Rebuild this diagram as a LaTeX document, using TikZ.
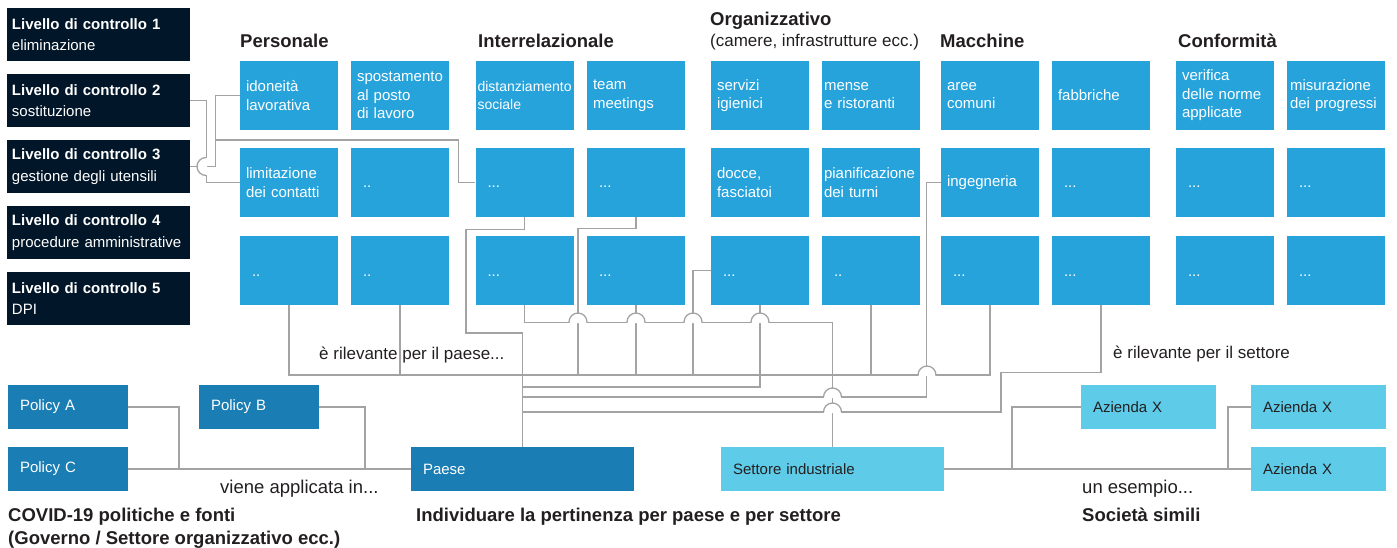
\documentclass[tikz,border=0pt]{standalone}
\usepackage{fontspec}
\setmainfont{Liberation Sans}
\usepackage{xcolor}
\definecolor{ctrlnavy}{HTML}{011628}
\definecolor{taskblue}{HTML}{27A3DC}
\definecolor{policyblue}{HTML}{1A7DB3}
\definecolor{firmcyan}{HTML}{5ECBE8}
\definecolor{textdark}{HTML}{231F20}
\definecolor{linegray}{HTML}{A3A3A3}
% line jumps: over a horizontal line, and to the left of a vertical one
\newcommand{\hoph}[1]{%
  \fill[white] ([shift={(-8.4,-1)}]#1) -- ([shift={(-8.4,0)}]#1) arc[start angle=180,end angle=0,radius=8.4] -- ([shift={(8.4,-1)}]#1) -- cycle;
  \draw[edge] ([shift={(-9,0)}]#1) arc[start angle=180,end angle=0,radius=9];}
\newcommand{\hopv}[1]{%
  \fill[white] ([shift={(1,8.4)}]#1) -- ([shift={(0,8.4)}]#1) arc[start angle=90,end angle=270,radius=8.4] -- ([shift={(1,-8.4)}]#1) -- cycle;
  \draw[edge] ([shift={(0,9)}]#1) arc[start angle=90,end angle=270,radius=9];}

\begin{document}
\begin{tikzpicture}[x=1pt,y=1pt]
\tikzstyle{ctrl} = [fill=ctrlnavy,text=white,minimum width=183,minimum height=53,text width=173,inner xsep=5,inner ysep=0,align=left,font=\fontsize{15}{21.7}\selectfont]
\tikzstyle{task} = [fill=taskblue,text=white,minimum width=98,minimum height=69,text width=86,inner xsep=6,inner ysep=0,align=left,font=\fontsize{15}{18.5}\selectfont]
\tikzstyle{tasktight} = [task,text width=94,inner xsep=2]
\tikzstyle{taskdots} = [task,text width=74,inner xsep=12,text height=11pt,text depth=0pt]
\tikzstyle{policy} = [fill=policyblue,text=white,minimum height=44,inner xsep=12,inner ysep=0,align=left,font=\fontsize{15}{18}\selectfont]
\tikzstyle{firm} = [policy,fill=firmcyan,text=textdark]
\tikzstyle{head} = [anchor=base west,inner sep=0,text=textdark,font=\bfseries\fontsize{18.5}{22.6}\selectfont]
\tikzstyle{note} = [anchor=base west,inner sep=0,text=textdark,font=\fontsize{17}{20}\selectfont]
\tikzstyle{edge} = [draw=linegray,line width=1.3]
\useasboundingbox (0,0) rectangle (1397,-548);

% control levels
\node[ctrl] (l1) at (98.5,-34.5) {\textbf{Livello di controllo 1}\\eliminazione};
\node[ctrl] (l2) at (98.5,-100.5) {\textbf{Livello di controllo 2}\\sostituzione};
\node[ctrl] (l3) at (98.5,-166.5) {\textbf{Livello di controllo 3}\\gestione degli utensili};
\node[ctrl] (l4) at (98.5,-232.5) {\textbf{Livello di controllo 4}\\procedure amministrative};
\node[ctrl] (l5) at (98.5,-298.5) {\textbf{Livello di controllo 5}\\DPI};

% column headers
\node[head] (hpers) at (240,-48) {Personale};
\node[head] (hinter) at (478,-48) {Interrelazionale};
\node[head] (horg) at (710,-26) {Organizzativo};
\node[note] (horgsub) at (710,-47) {(camere, infrastrutture ecc.)};
\node[head] (hmach) at (940,-48) {Macchine};
\node[head] (hconf) at (1178,-48) {Conformità};

% measures
\node[task] (p11) at (289,-95.5) {idoneità\\lavorativa};
\node[task] (p12) at (400,-95.5) {spostamento\\al posto\\di lavoro};
\node[task] (p21) at (289,-182.5) {limitazione\\dei contatti};
\node[taskdots] (p22) at (400,-182.5) {..};
\node[taskdots] (p31) at (289,-270.5) {..};
\node[taskdots] (p32) at (400,-270.5) {..};
\node[tasktight,font=\fontsize{14}{17.5}\selectfont] (i11) at (524.5,-95.5) {distanziamento\\sociale};
\node[task] (i12) at (636,-95.5) {team\\meetings};
\node[taskdots] (i21) at (524.5,-182.5) {...};
\node[taskdots] (i22) at (636,-182.5) {...};
\node[taskdots] (i31) at (524.5,-270.5) {...};
\node[taskdots] (i32) at (636,-270.5) {...};
\node[task] (o11) at (760,-95.5) {servizi\\igienici};
\node[tasktight] (o12) at (871,-95.5) {mense\\e ristoranti};
\node[task] (o21) at (760,-182.5) {docce,\\fasciatoi};
\node[tasktight] (o22) at (871,-182.5) {pianificazione\\dei turni};
\node[taskdots] (o31) at (760,-270.5) {...};
\node[taskdots] (o32) at (871,-270.5) {..};
\node[task] (m11) at (990,-95.5) {aree\\comuni};
\node[task] (m12) at (1101,-95.5) {fabbriche};
\node[task] (m21) at (990,-182.5) {ingegneria};
\node[taskdots] (m22) at (1101,-182.5) {...};
\node[taskdots] (m31) at (990,-270.5) {...};
\node[taskdots] (m32) at (1101,-270.5) {...};
\node[task] (c11) at (1225,-95.5) {verifica\\delle norme\\applicate};
\node[tasktight,inner xsep=3,text width=92] (c12) at (1336,-95.5) {misurazione\\dei progressi};
\node[taskdots] (c21) at (1225,-182.5) {...};
\node[taskdots] (c22) at (1336,-182.5) {...};
\node[taskdots] (c31) at (1225,-270.5) {...};
\node[taskdots] (c32) at (1336,-270.5) {...};

% policies, country, sector, companies
\node[policy,text width=96] (polA) at (68,-407) {Policy A};
\node[policy,text width=96] (polB) at (259,-407) {Policy B};
\node[policy,text width=96] (polC) at (68,-469) {Policy C};
\node[policy,text width=199] (paese) at (522.5,-469) {Paese};
\node[firm,text width=199] (settore) at (832.5,-469) {Settore industriale};
\node[firm,text width=111] (azA) at (1148.5,-407) {Azienda X};
\node[firm,text width=111] (azB) at (1318.5,-407) {Azienda X};
\node[firm,text width=111] (azC) at (1318.5,-469) {Azienda X};

% bends and jumps
\coordinate (jl3) at (215,-140);
\coordinate (k1) at (466,-333);
\coordinate (k2) at (578,-375);
\coordinate (k3) at (693,-375);
\coordinate (k5) at (1001,-412);
\coordinate (k6) at (1012,-469);
\coordinate (k7) at (1228,-469);
\coordinate (k8) at (179,-469);
\coordinate (k9) at (365,-469);
\coordinate (t2) at (522.5,-375);
\coordinate (t3) at (522.5,-387);
\coordinate (t4) at (522.5,-397);
\coordinate (t5) at (522.5,-412);
\coordinate (h0) at (206,-166.5);
\coordinate (h1) at (578,-322);
\coordinate (h2) at (636,-322);
\coordinate (h3) at (693,-322);
\coordinate (h4) at (760,-322);
\coordinate (h5) at (927,-375);
\coordinate (h6) at (832.5,-397);
\coordinate (h7) at (832.5,-412);

\draw[edge] (l2.east) -- ++(16,0) |- (p21.west);
\draw[edge] (l3.east) -- ++(25,0) |- (p11.west);
\draw[edge] (jl3) -| ([xshift=-17]i21.west) -- (i21.west);
\draw[edge] (i21.south) -- ++(0,-12) -| (k1) -| (paese.north);
\draw[edge] (p31.south) |- (t2) -| (m31.south);
\draw[edge] (p32.south) -- (p32.south |- t2);
\draw[edge] (i32.south) -- (i32.south |- t2);
\draw[edge] (o32.south) -- (o32.south |- t2);
\draw[edge] (i22.south) -- ++(0,-11) -| (k2);
\draw[edge] (o31.west) -| (k3);
\draw[edge] (o31.south) |- (t3);
\draw[edge] (m21.west) -- ++(-14,0) |- (t4);
\draw[edge] (m32.south) -- ++(0,-67) -| (k5) -- (t5);
\draw[edge] (i31.south) -- ++(0,-17) -| (settore.north);
\draw[edge] (polC.east) -- (paese.west);
\draw[edge] (polA.east) -| (k8);
\draw[edge] (polB.east) -| (k9);
\draw[edge] (settore.east) -- (azC.west);
\draw[edge] (azA.west) -| (k6);
\draw[edge] (azB.west) -| (k7);
\hopv{h0}
\hoph{h1} \hoph{h2} \hoph{h3} \hoph{h4}
\hoph{h5} \hoph{h6} \hoph{h7}

% annotations
\node[note] (npaese) at (319,-359) {è rilevante per il paese...};
\node[note] (nsett) at (1113,-358.5) {è rilevante per il settore};
\node[note,font=\fontsize{18.5}{22}\selectfont] (napp) at (220,-493) {viene applicata in...};
\node[note,font=\fontsize{18.5}{22}\selectfont] (nesem) at (1082,-493) {un esempio...};
\node[head,align=left] (fcovid) at (8,-544.5) {COVID-19 politiche e fonti\\(Governo / Settore organizzativo ecc.)};
\node[head] (find) at (416,-521.7) {Individuare la pertinenza per paese e per settore};
\node[head] (fsoc) at (1082,-521.7) {Società simili};
\end{tikzpicture}
\end{document}
